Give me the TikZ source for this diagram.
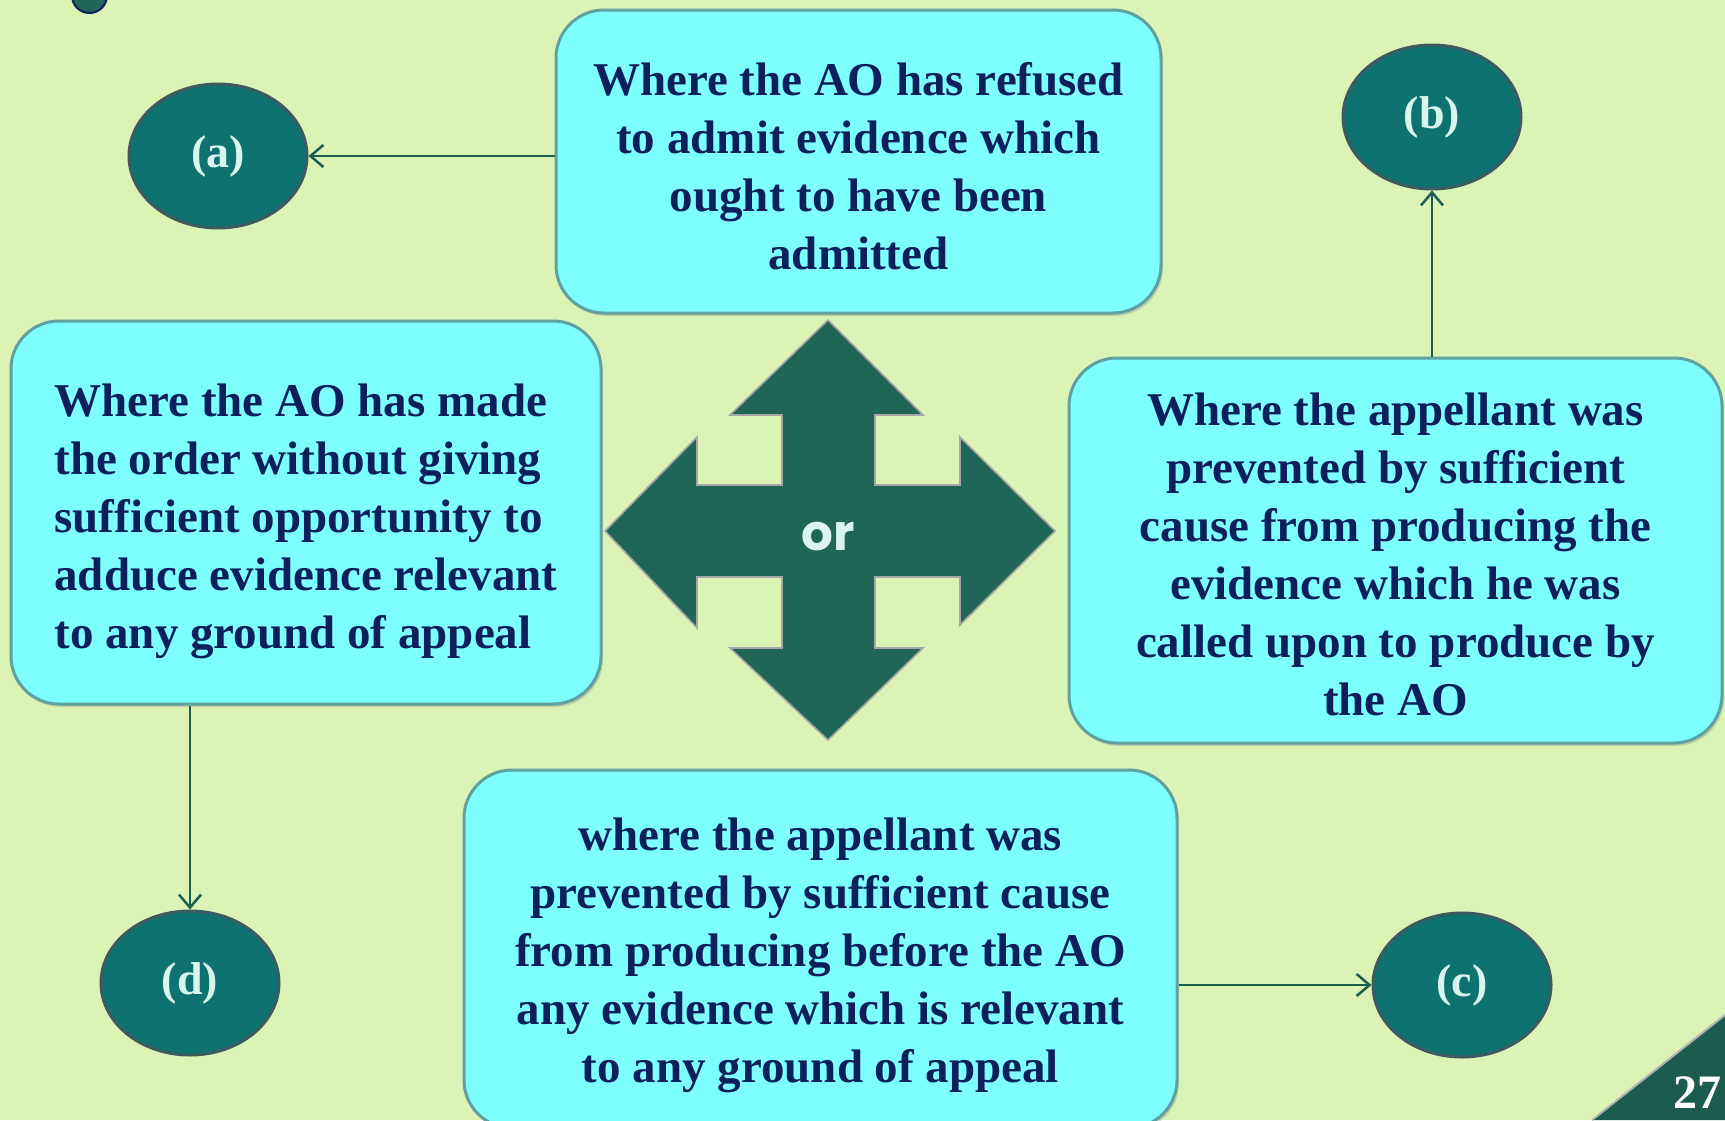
\documentclass[tikz,border=0pt]{standalone}
\usepackage{fontspec}
\newfontfamily\boxfont{Liberation Serif}
\newfontfamily\orfont{Poppins}
\usetikzlibrary{arrows.meta,shadows,shapes.geometric}
\definecolor{bg}{RGB}{220,243,182}
\definecolor{boxfill}{RGB}{125,255,255}
\definecolor{boxedge}{RGB}{95,160,160}
\definecolor{navy}{RGB}{14,32,92}
\definecolor{ovalfill}{RGB}{13,114,112}
\definecolor{ovaledge}{RGB}{60,90,95}
\definecolor{labelc}{RGB}{218,245,240}
\definecolor{crossc}{RGB}{31,102,86}
\definecolor{connc}{RGB}{29,94,80}
\newcommand{\boxtext}{\boxfont\bfseries\fontsize{23.5pt}{29pt}\selectfont}
\newcommand{\ovaltext}{\boxfont\bfseries\fontsize{23pt}{26pt}\selectfont}
\begin{document}
\begin{tikzpicture}[x=0.5pt,y=-0.5pt,
  box/.style={draw=boxedge, line width=1.5pt, fill=boxfill, rounded corners=24pt,
    drop shadow={opacity=0.3,shadow xshift=1pt,shadow yshift=-1.5pt}, inner sep=0pt},
  boxtxt/.style={text=navy, font=\boxtext, inner sep=0pt},
  oval/.style={ellipse, draw=ovaledge, line width=1.5pt, fill=ovalfill,
    minimum width=89pt, minimum height=72pt, text=labelc, font=\ovaltext, inner sep=0pt},
  conn/.style={draw=connc, line width=1.25pt, -{Straight Barb[length=6.5pt,width=11pt]}},
]
\useasboundingbox (0,0) rectangle (1725,1120);
\fill[bg] (0,0) rectangle (1725,1120);
\clip (0,0) rectangle (1725,1120);

% decorative partial circle
\filldraw[fill=crossc, draw=navy, line width=1pt] (89.5,-4.5) circle (8.75pt);

% cross arrow
\filldraw[fill=crossc, draw=black!35, line width=0.8pt]
  (828,320) -- (923,415) -- (875,415) -- (875,485) -- (960,485) -- (960,437)
  -- (1055,531) -- (960,625) -- (960,577) -- (875,577) -- (875,648) -- (923,648)
  -- (828,740) -- (730,648) -- (782,648) -- (782,577) -- (697,577) -- (697,628)
  -- (605,531) -- (697,437) -- (697,485) -- (782,485) -- (782,415) -- (730,415) -- cycle;
\node[anchor=base, text=labelc, font={\orfont\bfseries\fontsize{25pt}{28pt}\selectfont}] (or) at (828,550) {or};

% boxes
\node[box, minimum width=302.5pt, minimum height=151.5pt] (top) at (858.5,161.5) {};
\node[boxtxt, align=center] (toptxt) at ([yshift=-2.2pt]top.center)
  {Where the AO has refused\\to admit evidence which\\ought to have been\\admitted};
\node[box, minimum width=295pt, minimum height=191.5pt] (left) at (306,512.5) {};
\node[boxtxt, align=left] (lefttxt) at ([yshift=-4.5pt]left.center)
  {Where the AO has made\\the order without giving\\sufficient opportunity to\\adduce evidence relevant\\to any ground of appeal};
\node[box, minimum width=326.5pt, minimum height=192.5pt] (right) at (1395.5,550.5) {};
\node[boxtxt, align=center] (righttxt) at ([yshift=-2pt]right.center)
  {Where the appellant was\\prevented by sufficient\\cause from producing the\\evidence which he was\\called upon to produce by\\the AO};
\node[box, minimum width=356.5pt, minimum height=179pt] (bottom) at (820.5,949) {};
\node[boxtxt, align=center] (bottomtxt) at ([yshift=-3.3pt]bottom.center)
  {where the appellant was\\prevented by sufficient cause\\from producing before the AO\\any evidence which is relevant\\to any ground of appeal};

% ovals
\node[oval] (a) at (218,156) {(a)};
\node[oval] (b) at (1432,117) {(b)};
\node[oval] (c) at (1462,985) {(c)};
\node[oval] (d) at (190,983) {(d)};

% connectors
\draw[conn] (a.east -| top.west) -- (a.east);
\draw[conn] (b.south |- right.north) -- (b.south);
\draw[conn] (d.north |- left.south) -- (d.north);
\draw[conn] (c.west -| bottom.east) -- (c.west);

% page number corner
\fill[crossc!90!black] (1592,1120) -- (1725,1015) -- (1725,1120) -- cycle;
\draw[black!30, line width=1pt] (1592,1120) -- (1725,1015);
\node[anchor=base east, inner sep=0pt, text=white, font={\boxfont\bfseries\fontsize{24pt}{26pt}\selectfont}] (pg) at (1722,1108) {27};
\end{tikzpicture}
\end{document}
